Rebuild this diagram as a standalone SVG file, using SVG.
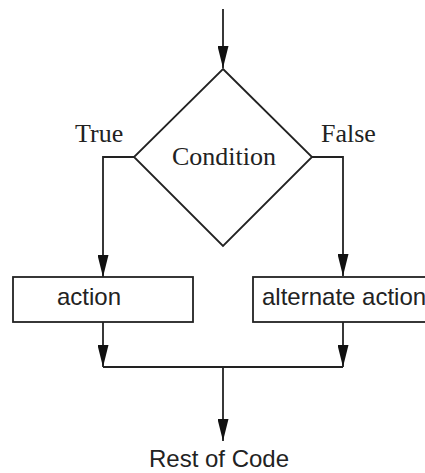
<svg xmlns="http://www.w3.org/2000/svg" width="425" height="473" viewBox="0 0 425 473">
<style>
.ln{fill:none;stroke:#222;stroke-width:1.8}
.sh{fill:#fff;stroke:#222;stroke-width:1.8}
.serif{font-family:"Liberation Serif","Times New Roman",serif;font-size:26px;fill:#222}
.sans{font-family:"Liberation Sans",Arial,sans-serif;font-size:24px;fill:#222}
</style>
<defs>
<marker id="arr" markerUnits="userSpaceOnUse" markerWidth="22" markerHeight="11" viewBox="0 0 22 11" refX="22" refY="5.5" orient="auto">
<path d="M0,0 L22,5.5 L0,11 Z" fill="#111"/>
</marker>
</defs>
<rect width="425" height="473" fill="#fff"/>
<g id="connectors">
<path class="ln" d="M223,9 V68" marker-end="url(#arr)"/>
<path class="ln" d="M134,157 H103 V277" marker-end="url(#arr)"/>
<path class="ln" d="M312,157 H343 V276" marker-end="url(#arr)"/>
<path class="ln" d="M103,322 V367" marker-end="url(#arr)"/>
<path class="ln" d="M343,322 V367" marker-end="url(#arr)"/>
<path class="ln" d="M103,367 H343"/>
<path class="ln" d="M223,367 V441" marker-end="url(#arr)"/>
</g>
<g id="label-true"><text class="serif" x="75" y="142">True</text></g>
<g id="label-false"><text class="serif" x="321" y="142">False</text></g>
<g id="condition">
<polygon class="sh" points="223,69 312,157 223,246 134,157"/>
<text class="serif" x="224" y="165" text-anchor="middle">Condition</text>
</g>
<g id="action">
<rect class="sh" x="13" y="277" width="180" height="45"/>
<text class="sans" x="57" y="305">action</text>
</g>
<g id="alternate-action">
<rect class="sh" x="253" y="277" width="190" height="45"/>
<text class="sans" x="262" y="305">alternate action</text>
</g>
<g id="rest">
<text class="sans" x="219" y="467" text-anchor="middle">Rest of Code</text>
</g>
</svg>
